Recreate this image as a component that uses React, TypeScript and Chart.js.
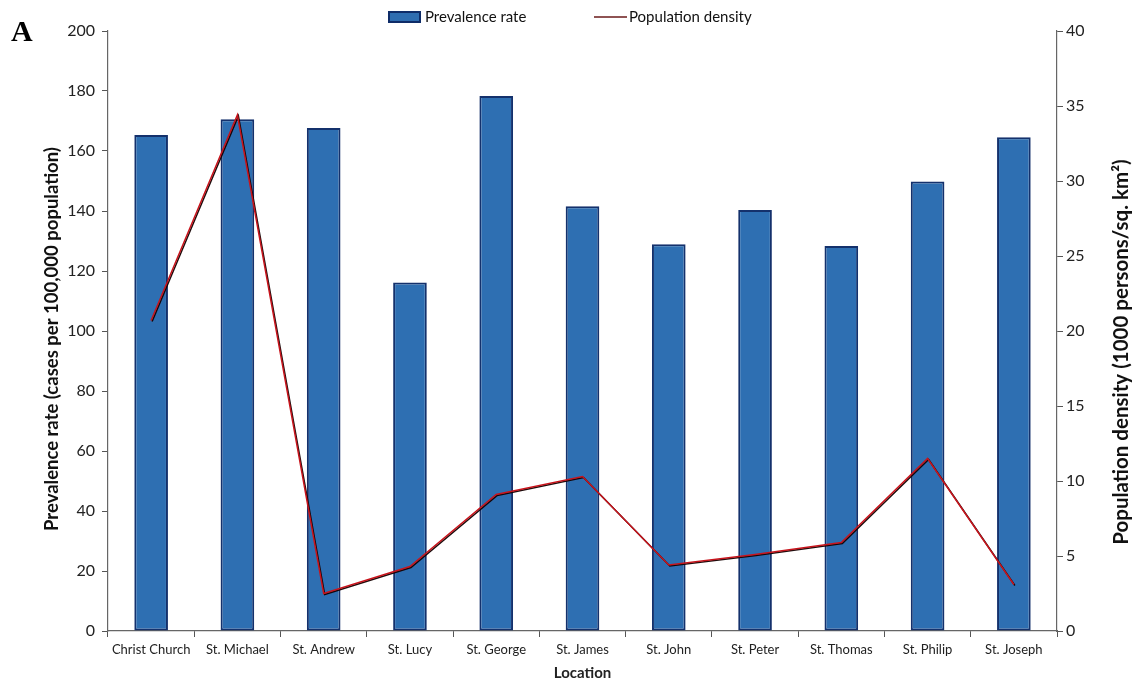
import { useEffect, useRef } from 'react';
import { Chart, registerables } from 'chart.js';

Chart.register(...registerables);

const categories = [
  'Christ Church',
  'St. Michael',
  'St. Andrew',
  'St. Lucy',
  'St. George',
  'St. James',
  'St. John',
  'St. Peter',
  'St. Thomas',
  'St. Philip',
  'St. Joseph',
];
const prevalenceRate = [165.3, 170.6, 167.7, 116.2, 178.3, 141.6, 128.9, 140.3, 128.3, 149.8, 164.6];
const populationDensity = [20.7, 34.4, 2.5, 4.3, 9.1, 10.3, 4.4, 5.1, 5.9, 11.5, 3.1];
const leftAxisMin = 0;
const leftAxisMax = 200;
const leftAxisStep = 20;
const rightAxisMin = 0;
const rightAxisMax = 40;
const rightAxisStep = 5;
const leftAxisTitle = 'Prevalence rate (cases per 100,000 population)';
const rightAxisTitle = 'Population density (1000 persons/sq. km²)';

const FONT = 'Lato, "Noto Sans", sans-serif';

const legendPlugin = {
  id: 'customLegend',
  afterDraw(chart: any) {
    const ctx = chart.ctx as CanvasRenderingContext2D;
    const ds = chart.data.datasets;
    ctx.save();
    ctx.font = `15px ${FONT}`;
    ctx.textBaseline = 'middle';
    const y = 17;
    let x = 389;
    ctx.fillStyle = '#2E6DB0';
    ctx.strokeStyle = '#0E2C68';
    ctx.lineWidth = 2;
    ctx.fillRect(x, 12, 31, 10);
    ctx.strokeRect(x, 12, 31, 10);
    x += 36;
    ctx.fillStyle = '#111';
    ctx.textAlign = 'left';
    ctx.fillText(ds[0].label, x, y);
    x = 594;
    ctx.strokeStyle = '#6a1a1a';
    ctx.lineWidth = 1.5;
    ctx.beginPath();
    ctx.moveTo(x, y);
    ctx.lineTo(x + 33, y);
    ctx.stroke();
    ctx.fillText(ds[1].label, x + 35, y);
    ctx.restore();

    // axis titles, both reading bottom to top
    const area = chart.chartArea;
    const mid = (area.top + area.bottom) / 2;
    ctx.save();
    ctx.translate(52, mid + 8);
    ctx.rotate(-Math.PI / 2);
    ctx.font = `bold 18.5px ${FONT}`;
    ctx.textAlign = 'center';
    ctx.textBaseline = 'middle';
    ctx.fillStyle = '#111';
    ctx.fillText(leftAxisTitle, 0, 0);
    ctx.restore();

    ctx.save();
    ctx.translate(1121, mid + 21);
    ctx.rotate(-Math.PI / 2);
    ctx.font = `bold 20.5px ${FONT}`;
    ctx.textAlign = 'center';
    ctx.textBaseline = 'middle';
    ctx.fillStyle = '#111';
    ctx.fillText(rightAxisTitle, 0, 0);
    ctx.restore();
  },
};

const lineShadowPlugin = {
  id: 'lineShadow',
  beforeDatasetDraw(chart: any, args: any) {
    if (args.index === 1) {
      const ctx = chart.ctx as CanvasRenderingContext2D;
      ctx.save();
      ctx.shadowColor = 'rgba(20,0,0,0.95)';
      ctx.shadowOffsetX = 1;
      ctx.shadowOffsetY = 1;
      ctx.shadowBlur = 0;
    }
  },
  afterDatasetDraw(chart: any, args: any) {
    if (args.index === 1) {
      chart.ctx.restore();
    }
  },
};

export default function App() {
  const canvasRef = useRef<HTMLCanvasElement | null>(null);

  useEffect(() => {
    if (!canvasRef.current) return;
    const chart = new Chart(canvasRef.current, {
      type: 'bar',
      data: {
        labels: categories,
        datasets: [
          {
            type: 'bar',
            label: 'Prevalence rate',
            data: prevalenceRate,
            yAxisID: 'y',
            backgroundColor: '#2E6FB2',
            borderColor: '#14316C',
            borderWidth: 2,
            borderSkipped: false,
            barPercentage: 0.39,
            categoryPercentage: 1,
            order: 2,
          },
          {
            type: 'line',
            label: 'Population density',
            data: populationDensity,
            yAxisID: 'y1',
            borderColor: '#C8141C',
            borderWidth: 1.5,
            pointRadius: 0,
            tension: 0,
            fill: false,
            order: 1,
          },
        ],
      },
      options: {
        responsive: false,
        animation: false,
        layout: { padding: { top: 31, left: 0, right: 0, bottom: 0 } },
        plugins: {
          legend: { display: false },
          tooltip: { enabled: false },
        },
        scales: {
          x: {
            grid: {
              display: true,
              drawOnChartArea: false,
              drawTicks: true,
              tickLength: 6,
              color: '#555',
              offset: true,
            },
            border: { display: true, color: '#666', width: 1.2 },
            ticks: {
              color: '#222',
              font: { family: FONT, size: 13 },
              padding: 5,
              maxRotation: 0,
              autoSkip: false,
            },
            title: {
              display: true,
              text: 'Location',
              color: '#222',
              font: { family: FONT, size: 15, weight: 'bold' },
              padding: { top: 0, bottom: 0 },
            },
            afterFit: (scale: any) => {
              scale.height = 51;
            },
          },
          y: {
            position: 'left',
            min: leftAxisMin,
            max: leftAxisMax,
            grid: {
              display: true,
              drawOnChartArea: false,
              drawTicks: true,
              tickLength: 6,
              color: '#555',
            },
            border: { display: true, color: '#666', width: 1.2 },
            ticks: {
              stepSize: leftAxisStep,
              color: '#222',
              font: { family: FONT, size: 16 },
              padding: 7,
            },
            title: { display: false },
            afterFit: (scale: any) => {
              scale.width = 108;
            },
          },
          y1: {
            position: 'right',
            min: rightAxisMin,
            max: rightAxisMax,
            grid: {
              display: true,
              drawOnChartArea: false,
              drawTicks: true,
              tickLength: 6,
              color: '#555',
            },
            border: { display: true, color: '#666', width: 1.2 },
            ticks: {
              stepSize: rightAxisStep,
              color: '#222',
              font: { family: FONT, size: 16 },
              padding: 3,
            },
            title: { display: false },
            afterFit: (scale: any) => {
              scale.width = 77;
            },
          },
        },
      },
      plugins: [legendPlugin, lineShadowPlugin],
    });
    return () => chart.destroy();
  }, []);

  return (
    <div style={{ position: 'absolute', left: 0, top: 0, width: 1134, height: 682, background: '#fff' }}>
      <canvas ref={canvasRef} width={1134} height={682} style={{ display: 'block' }} />
      <div
        style={{
          position: 'absolute',
          left: 11,
          top: 14,
          fontFamily: '"Liberation Serif", "DejaVu Serif", serif',
          fontWeight: 'bold',
          fontSize: 30,
          color: '#000',
        }}
      >
        A
      </div>
    </div>
  );
}
